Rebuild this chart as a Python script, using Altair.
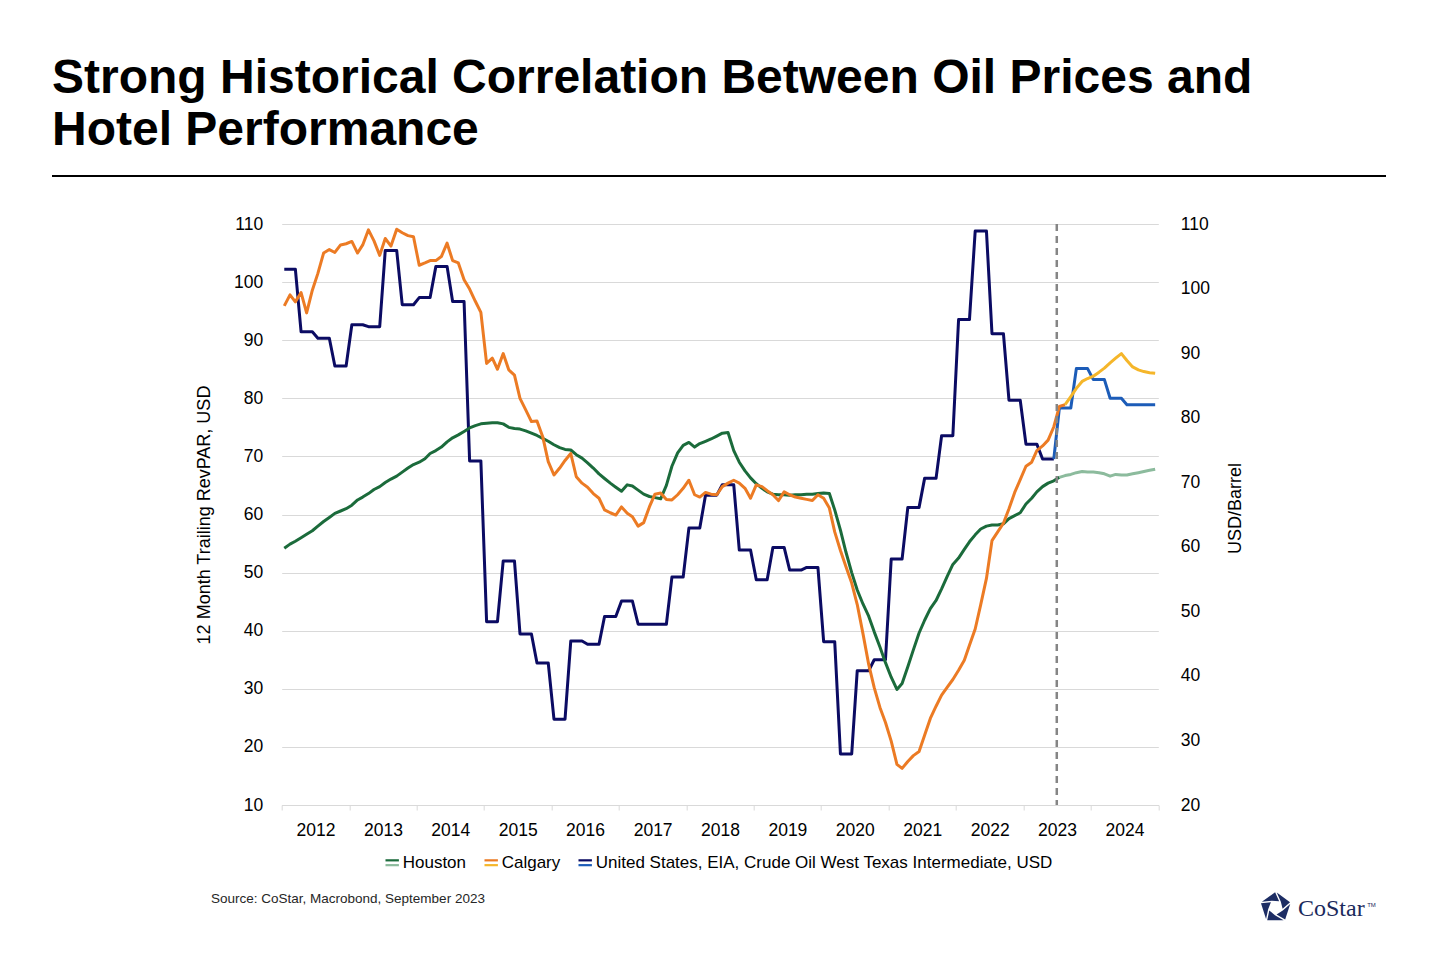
import math

import altair as alt
import pandas as pd

TITLE = ["Strong Historical Correlation Between Oil Prices and", "Hotel Performance"]
SOURCE = "Source: CoStar, Macrobond, September 2023"
BRAND = "CoStar"

SERIES = [
    "Houston",
    "Calgary",
    "United States, EIA, Crude Oil West Texas Intermediate, USD",
]
ACTUAL_COLORS = ["#1b6b3b", "#ec7b24", "#0b0b63"]
FORECAST_COLORS = ["#8cbb9d", "#f5b62a", "#1c5cb8"]

# 12 month trailing RevPAR (USD), monthly from Jan 2012
HOUSTON = [
    54.2, 54.9, 55.4, 56.0, 56.6, 57.2, 58.0, 58.8, 59.5, 60.2, 60.6, 61.0,
    61.6, 62.5, 63.0, 63.6, 64.3, 64.8, 65.5, 66.1, 66.6, 67.3, 68.0, 68.6,
    69.0, 69.6, 70.5, 71.0, 71.6, 72.5, 73.2, 73.7, 74.3, 74.9, 75.3, 75.6,
    75.7, 75.8, 75.8, 75.6, 75.0, 74.8, 74.7, 74.4, 74.0, 73.6, 73.1, 72.6,
    72.0, 71.5, 71.2, 71.1, 70.3, 69.7, 68.9, 68.0, 67.0, 66.2, 65.4, 64.7,
    64.0, 65.1, 64.9, 64.2, 63.5, 63.1, 62.9, 62.7, 65.0, 68.3, 70.6, 71.9,
    72.4, 71.6, 72.2, 72.6, 73.0, 73.5, 74.0, 74.1, 71.0, 69.0, 67.5, 66.3,
    65.3, 64.5, 63.9, 63.5, 63.4, 63.4, 63.3, 63.4, 63.4, 63.5, 63.5, 63.6,
    63.7, 63.6, 60.8, 57.3, 53.5, 50.0, 47.0, 44.6, 42.5, 39.8, 37.2, 34.5,
    32.0, 29.9, 30.9, 33.8, 36.7, 39.6, 41.8, 43.8, 45.2, 47.2, 49.4, 51.4,
    52.5, 54.0, 55.3, 56.5, 57.5, 58.0, 58.2, 58.2, 58.4, 59.3, 59.8, 60.3,
    61.8, 62.8, 63.9, 64.8, 65.4, 65.8, 66.4,
]
CALGARY = [
    95.9, 97.8, 96.6, 98.2, 94.7, 98.6, 101.5, 105.0, 105.6, 105.1, 106.4, 106.6,
    107.0, 105.0, 106.4, 109.0, 107.1, 104.6, 107.5, 106.2, 109.1, 108.5, 108.0, 107.8,
    102.9, 103.3, 103.7, 103.7, 104.4, 106.7, 103.7, 103.3, 100.4, 98.8, 96.7, 94.8,
    86.0, 86.9, 85.0, 87.7, 84.9, 84.0, 80.0, 78.0, 76.0, 76.1, 73.4, 69.1,
    66.8, 68.0, 69.3, 70.5, 66.5, 65.4, 64.7, 63.6, 62.8, 60.8, 60.3, 59.9,
    61.3, 60.2, 59.6, 58.0, 58.6, 61.3, 63.5, 63.7, 62.6, 62.5, 63.4, 64.5,
    65.9, 63.4, 63.0, 63.8, 63.5, 63.4, 64.8, 65.4, 65.9, 65.4, 64.5, 62.8,
    65.1, 64.8, 64.1, 63.4, 62.4, 63.9, 63.4, 63.0, 62.8, 62.6, 62.4, 63.4,
    62.8, 61.1, 57.0, 53.8, 51.0, 48.2, 44.5, 39.5, 34.2, 30.2, 26.8, 24.2,
    21.0, 17.0, 16.3, 17.5, 18.5, 19.2, 22.0, 24.9, 27.0, 28.9, 30.3, 31.6,
    33.2, 34.9, 37.5, 40.3, 44.5, 49.0, 55.5, 57.0, 58.5, 61.0, 63.8, 66.0,
    68.3, 69.0, 71.0, 71.8, 72.8, 75.1, 78.6, 78.9,
]
# outlook, monthly: Houston from Jul 2023, Calgary from Aug 2023, both to Dec 2024
HOUSTON_FC = [
    66.4, 66.7, 66.9, 67.2, 67.4, 67.3, 67.3, 67.2, 67.0,
    66.6, 66.9, 66.8, 66.8, 67.0, 67.2, 67.4, 67.6, 67.8,
]
CALGARY_FC = [
    78.9, 80.3, 81.7, 82.9, 83.4, 83.8, 84.5, 85.2, 86.1,
    86.9, 87.7, 86.5, 85.4, 84.9, 84.6, 84.4, 84.3,
]

# WTI crude (USD/barrel), quarterly from Q1 2012 to Q2 2023, then outlook to Q4 2024
WTI = [
    103.0, 93.3, 92.3, 88.0,
    94.4, 94.1, 105.9, 97.5,
    98.6, 103.4, 98.0, 73.3,
    48.4, 57.8, 46.5, 42.0,
    33.3, 45.4, 44.9, 49.2,
    51.6, 48.0, 48.0, 55.3,
    62.9, 68.0, 69.6, 59.5,
    54.9, 59.9, 56.4, 56.8,
    45.3, 27.9, 40.8, 42.5,
    58.1, 66.1, 70.6, 77.2,
    95.2, 108.9, 93.0, 82.7,
    75.9, 73.6,
]
WTI_FC = [81.5, 87.6, 85.9, 83.0, 82.0, 82.0]

FORECAST_START = "2023-07-01"
YEARS = list(range(2012, 2026))
LEFT_TICKS = list(range(10, 111, 10))
RIGHT_TICKS = list(range(20, 111, 10))

# outlook keys differ from the actual ones so the two legends stay separate
OUTLOOK = [s + " outlook" for s in SERIES]


def monthly(values, start, name, col="series"):
    dates = pd.date_range(start, periods=len(values), freq="MS").strftime("%Y-%m-15")
    return pd.DataFrame({"date": dates, "value": values, col: name})


def quarterly(values):
    return [v for v in values for _ in range(3)]


def logo_path():
    # five twisted blades round a pentagonal hole
    blades = []
    for k in range(5):
        a0 = math.radians(-90 + 72 * k)
        a1 = math.radians(-90 + 72 * (k + 1))
        b0, b1 = a0 + math.radians(40), a1 + math.radians(40)
        pts = [
            (math.cos(a0), math.sin(a0)),
            (math.cos(a1), math.sin(a1)),
            (0.45 * math.cos(b1), 0.45 * math.sin(b1)),
            (0.45 * math.cos(b0), 0.45 * math.sin(b0)),
        ]
        cx = sum(p[0] for p in pts) / 4
        cy = sum(p[1] for p in pts) / 4
        pts = [(cx + 0.84 * (px - cx), cy + 0.84 * (py - cy)) for px, py in pts]
        blades.append("M" + "L".join(f"{px:.3f},{py:.3f}" for px, py in pts) + "Z")
    return "".join(blades)


revpar = pd.concat(
    [monthly(HOUSTON, "2012-01-01", SERIES[0]), monthly(CALGARY, "2012-01-01", SERIES[1])]
)
revpar_fc = pd.concat(
    [
        monthly(HOUSTON_FC, "2023-07-01", OUTLOOK[0], "outlook"),
        monthly(CALGARY_FC, "2023-08-01", OUTLOOK[1], "outlook"),
    ]
)
oil = monthly(quarterly(WTI), "2012-01-01", SERIES[2])
oil_fc = monthly(WTI[-1:] + quarterly(WTI_FC), "2023-06-01", OUTLOOK[2], "outlook")


def legend(path, opacity):
    # two legends drawn on top of each other: actual colour above, outlook colour below
    return alt.Legend(
        title=None,
        orient="none",
        legendX=102,
        legendY=630,
        direction="horizontal",
        columns=3,
        symbolType=path,
        symbolSize=180,
        symbolStrokeWidth=2.2,
        labelFontSize=17,
        labelColor="black",
        labelOpacity=opacity,
        labelExpr="replace(datum.label, ' outlook', '')",
        labelLimit=700,
        labelOffset=2,
        columnPadding=13,
    )


x = alt.X(
    "date:T",
    title=None,
    scale=alt.Scale(
        type="utc",
        domain=[
            alt.DateTime(year=2012, month=1, date=1, utc=True),
            alt.DateTime(year=2025, month=1, date=1, utc=True),
        ],
    ),
    axis=alt.Axis(
        values=[alt.DateTime(year=y, month=1, date=1, utc=True) for y in YEARS],
        labelExpr="utcyear(datum.value) > 2024 ? '' : utcFormat(datum.value, '%Y')",
        labelOffset=33.7,
        labelFlush=False,
        labelOverlap=False,
        labelBaseline="alphabetic",
        labelPadding=25,
        tickSize=5,
        tickColor="#d9d9d9",
        domainColor="#d9d9d9",
        grid=False,
    ),
)
y_left = alt.Y(
    "value:Q",
    scale=alt.Scale(domain=[10, 110], nice=False),
    axis=alt.Axis(
        orient="left",
        values=LEFT_TICKS,
        title="12 Month Trailing RevPAR, USD",
        ticks=False,
        domain=False,
        grid=True,
        gridColor="#d9d9d9",
        labelPadding=19,
        titlePadding=20,
    ),
)
y_right = alt.Y(
    "value:Q",
    scale=alt.Scale(domain=[20, 110], nice=False),
    axis=alt.Axis(
        orient="right",
        values=RIGHT_TICKS,
        title="USD/Barrel",
        titleAngle=270,
        titleBaseline="top",
        titleY=284,
        ticks=False,
        domain=False,
        grid=False,
        labelPadding=22,
        titlePadding=17,
    ),
)
color = alt.Color(
    "series:N",
    scale=alt.Scale(domain=SERIES, range=ACTUAL_COLORS),
    legend=legend("M-1,-0.36H1", 1),
)
stroke = alt.Stroke(
    "outlook:N",
    scale=alt.Scale(domain=OUTLOOK, range=FORECAST_COLORS),
    legend=legend("M-1,0.36H1", 0),
)
line = dict(strokeWidth=3, strokeJoin="round")

oil_layer = alt.layer(
    alt.Chart(oil).mark_line(**line).encode(x=x, y=y_right, color=color),
    alt.Chart(oil_fc).mark_line(**line).encode(x=x, y=y_right, stroke=stroke),
)
revpar_layer = alt.layer(
    alt.Chart(revpar).mark_line(**line).encode(x=x, y=y_left, color=color),
    alt.Chart(revpar_fc).mark_line(**line).encode(x=x, y=y_left, stroke=stroke),
    alt.Chart(pd.DataFrame({"date": [FORECAST_START]}))
    .mark_rule(color="#858585", strokeWidth=2.5, strokeDash=[7, 5])
    .encode(x=x),
)

one = pd.DataFrame({"k": [0]})
rule_top = alt.Chart(one).mark_rule(color="black", strokeWidth=2).encode(
    x=alt.value(-229.7), x2=alt.value(1104.3), y=alt.value(-48)
)
source = alt.Chart(one).mark_text(
    align="left", baseline="alphabetic", fontSize=13.5, color="#262626"
).encode(x=alt.value(-70.7), y=alt.value(679), text=alt.value(SOURCE))
logo_icon = alt.Chart(one).mark_point(
    shape=logo_path(), filled=True, size=1100, color="#1d2d64", opacity=1, strokeWidth=0
).encode(x=alt.value(994), y=alt.value(683.5))
logo_text = alt.Chart(one).mark_text(
    align="left", baseline="alphabetic", font="Liberation Serif", fontSize=24, color="#1b2a5c"
).encode(x=alt.value(1016.3), y=alt.value(692), text=alt.value(BRAND))
logo_tm = alt.Chart(one).mark_text(
    align="left", baseline="alphabetic", fontSize=6, color="#1b2a5c"
).encode(x=alt.value(1085.5), y=alt.value(683), text=alt.value("TM"))

chart = (
    alt.layer(oil_layer, revpar_layer, rule_top, source, logo_icon, logo_text, logo_tm)
    .resolve_scale(y="independent")
    .properties(
        width=876.6,
        height=581,
        title=alt.TitleParams(
            text=TITLE,
            anchor="start",
            frame="group",
            dx=-229.7,
            offset=20,
            fontSize=48,
            fontWeight="bold",
            lineHeight=52,
            color="black",
            font="Liberation Sans",
        ),
        autosize=alt.AutoSizeParams(type="none"),
        padding={"left": 273.7, "top": 216, "right": 273.7, "bottom": 147},
    )
    .configure(font="Liberation Sans")
    .configure_view(stroke="transparent")
    .configure_axis(
        labelFont="Liberation Sans",
        labelFontSize=17.5,
        labelColor="black",
        titleFont="Liberation Sans",
        titleFontSize=18,
        titleFontWeight="normal",
        titleColor="black",
    )
)

chart.save("out.html", embed_options={"renderer": "svg", "actions": False})
